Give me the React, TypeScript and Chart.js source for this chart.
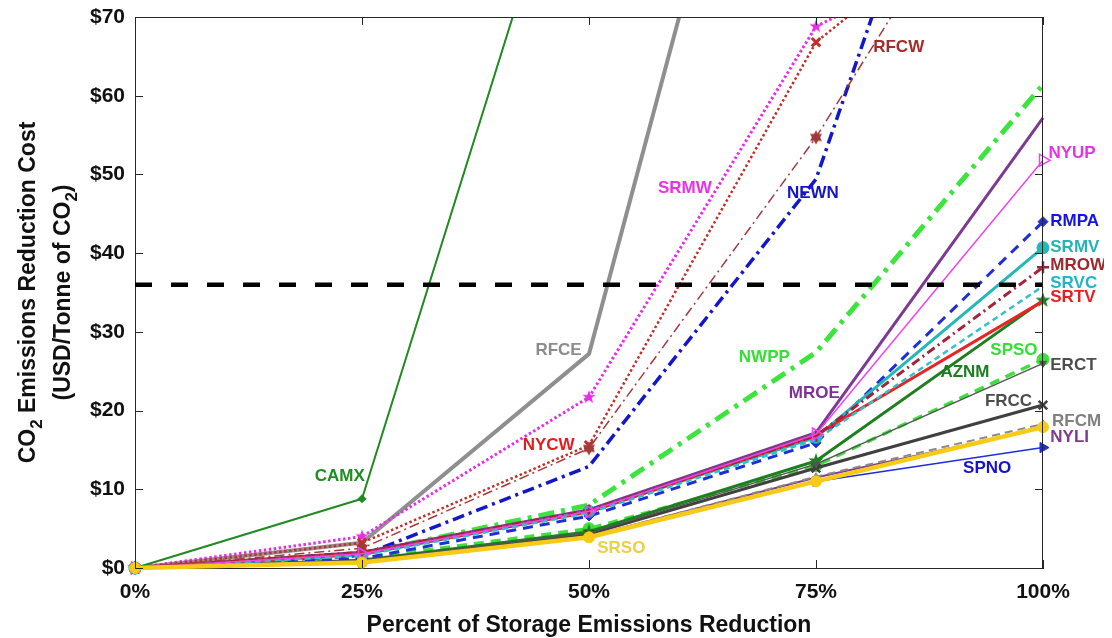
import React, { useEffect, useRef } from 'react';
import { Chart, registerables } from 'chart.js';
Chart.register(...registerables);

// ---------- data ----------
const xPercent = [0, 25, 50, 75, 100];
const xTickValues = [0, 25, 50, 75, 100];
const yTickValues = [0, 10, 20, 30, 40, 50, 60, 70];
const thresholdX = [0, 100];
const thresholdY = [36, 36];

const CAMX = [0, 8.8, 101, 190, 280];
const RFCE = [0, 3.2, 27.2, 135, 240];
const SRMW = [0, 4.0, 21.7, 68.8, 83];
const NYCW = [0, 3.2, 15.6, 66.8, 90];
const RFCW = [0, 2.5, 15.2, 54.7, 101];
const NEWN = [0, 1.6, 12.9, 49.4, 133];
const NWPP = [0, 1.8, 8.0, 27.4, 61.4];
const MROE = [0, 2.0, 7.4, 17.2, 57.2];
const NYUP = [0, 1.8, 7.2, 17.0, 51.8];
const RMPA = [0, 1.2, 6.6, 15.9, 44.0];
const SRMV = [0, 1.7, 7.2, 16.6, 40.7];
const MROW = [0, 2.0, 7.3, 16.8, 38.2];
const SRVC = [0, 1.6, 7.0, 16.3, 35.8];
const SRTV = [0, 1.8, 7.1, 16.9, 33.9];
const AZNM = [0, 1.0, 4.6, 13.6, 34.0];
const SPSO = [0, 1.2, 5.0, 13.0, 26.5];
const ERCT = [0, 1.0, 4.4, 13.2, 26.0];
const FRCC = [0, 0.9, 4.3, 12.7, 20.7];
const RFCM = [0, 0.8, 4.0, 11.6, 18.3];
const NYLI = [0, 0.8, 4.0, 11.5, 17.8];
const SRSO = [0, 0.7, 3.9, 11.0, 17.9];
const SPNO = [0, 0.6, 4.0, 11.0, 15.3];

const seriesValues: Record<string, number[]> = {
  CAMX, RFCE, SRMW, NYCW, RFCW, NEWN, NWPP, MROE, NYUP, RMPA, SRMV,
  MROW, SRVC, SRTV, AZNM, SPSO, ERCT, FRCC, RFCM, NYLI, SRSO, SPNO,
};

// label anchors (data units: % , $)
const labelNames = ['CAMX', 'RFCE', 'SRMW', 'NEWN', 'RFCW', 'NWPP', 'MROE', 'NYCW', 'SRSO', 'AZNM', 'SPSO',
  'ERCT', 'FRCC', 'RFCM', 'NYLI', 'SPNO', 'NYUP', 'RMPA', 'SRMV', 'MROW', 'SRVC', 'SRTV'];
const labelX = [19.8, 44.1, 57.6, 71.8, 81.3, 66.5, 72.0, 42.7, 50.9, 88.7, 94.2,
  100.8, 93.6, 101.0, 100.8, 91.2, 100.6, 100.8, 100.8, 100.8, 100.8, 100.8];
const labelY = [11.6, 27.6, 48.2, 47.6, 66.1, 26.8, 22.2, 15.6, 2.5, 24.8, 27.6,
  25.7, 21.2, 18.6, 16.6, 12.7, 52.7, 44.1, 40.8, 38.4, 36.2, 34.4];

// ---------- styles ----------
type Style = {
  color: string; width: number; dash?: number[]; label: string;
  marker?: string; radius?: number; rot?: number; fill?: string; mw?: number;
};
const styles: Record<string, Style> = {
  SPNO: { color: '#1E2EDC', width: 1.5, label: '#1414C8', marker: 'triangle', radius: 6, rot: 90 },
  NYUP: { color: '#EE44EE', width: 1.5, label: '#E633E6', marker: 'triangle', radius: 7, rot: 90, fill: 'rgba(255,255,255,0)', mw: 1.5 },
  ERCT: { color: '#555555', width: 1.5, label: '#4D4D4D', marker: 'triangle', radius: 4, rot: 180 },
  RFCW: { color: '#A33A3A', width: 1.5, dash: [10, 4, 2, 4], label: '#A52A2A', marker: 'hexagram', radius: 7 },
  RFCM: { color: '#8A8A8A', width: 2, dash: [8, 5], label: '#808080', marker: 'triangle', radius: 4 },
  NYLI: { color: '#7E3C90', width: 2, label: '#7D3C8C' },
  CAMX: { color: '#1F8A1F', width: 2, label: '#1E8C1E', marker: 'rectRot', radius: 4 },
  SRVC: { color: '#33C0CC', width: 2.5, dash: [6, 4], label: '#26B3C8' },
  NYCW: { color: '#C0302A', width: 2.5, dash: [2.5, 2.5], label: '#E01E1E', marker: 'crossRot', radius: 6, mw: 3, fill: '#E01E1E' },
  SRMW: { color: '#E62EE6', width: 3, dash: [2.5, 2.5], label: '#E633E6', marker: 'pentagram', radius: 7 },
  MROW: { color: '#A3233A', width: 3, dash: [9, 4, 2, 4], label: '#A0282D', marker: 'cross', radius: 6, mw: 2.5 },
  SRTV: { color: '#E82424', width: 3, label: '#E62020' },
  SRMV: { color: '#21B8B8', width: 3, label: '#26B3B3', marker: 'circle', radius: 6 },
  RMPA: { color: '#1F2FD6', width: 3, dash: [10, 7], label: '#1414E6', marker: 'rectRot', radius: 5 },
  FRCC: { color: '#404040', width: 3, label: '#4D4D4D', marker: 'crossRot', radius: 6, mw: 2.5 },
  AZNM: { color: '#1E7F1E', width: 3, label: '#1E7D1E', marker: 'pentagram', radius: 8 },
  MROE: { color: '#7D3A92', width: 3, label: '#7B3294' },
  SPSO: { color: '#3EE03E', width: 3.5, dash: [10, 7], label: '#33E033', marker: 'circle', radius: 6 },
  NEWN: { color: '#1218C8', width: 3.5, dash: [12, 5, 3, 5], label: '#1414C8' },
  RFCE: { color: '#8F8F8F', width: 4, label: '#8C8C8C' },
  SRSO: { color: '#F7CB15', width: 4.5, label: '#EBCF45', marker: 'circle', radius: 5.5 },
  NWPP: { color: '#3BE53B', width: 5, dash: [16, 7, 4, 7], label: '#33E033' },
};
// first entry is drawn on top
const drawOrder = ['SRSO', 'SPNO', 'NYUP', 'ERCT', 'RFCW', 'RFCM', 'NYLI', 'CAMX', 'SRVC', 'NYCW', 'SRMW', 'MROW',
  'SRTV', 'SRMV', 'RMPA', 'FRCC', 'AZNM', 'MROE', 'SPSO', 'NEWN', 'RFCE', 'NWPP'];

const FONT = '"Liberation Sans", Arial, sans-serif';
const INK = '#262626';

function starCanvas(n: number, color: string, r: number, inner: number) {
  const size = Math.ceil(r * 2 + 2);
  const c = document.createElement('canvas');
  c.width = size; c.height = size;
  const g = c.getContext('2d')!;
  g.fillStyle = color;
  g.beginPath();
  for (let i = 0; i < 2 * n; i++) {
    const a = -Math.PI / 2 + (i * Math.PI) / n;
    const rr = i % 2 === 0 ? r : r * inner;
    g.lineTo(size / 2 + rr * Math.cos(a), size / 2 + rr * Math.sin(a));
  }
  g.closePath();
  g.fill();
  return c;
}

function drawRich(ctx: CanvasRenderingContext2D, parts: [string, boolean][], cx: number, y: number, size: number) {
  const big = `bold ${size}px ${FONT}`;
  const small = `bold ${Math.round(size * 0.72)}px ${FONT}`;
  const widths = parts.map(([t, sub]) => { ctx.font = sub ? small : big; return ctx.measureText(t).width; });
  const total = widths.reduce((a, b) => a + b, 0);
  let x = cx - total / 2;
  parts.forEach(([t, sub], i) => {
    ctx.font = sub ? small : big;
    ctx.fillText(t, x, sub ? y + size * 0.3 : y);
    x += widths[i];
  });
}

const overlayPlugin = {
  id: 'overlay',
  afterDatasetsDraw(chart: any) {
    const { ctx, chartArea: a, scales } = chart;
    const xs = scales.x, ys = scales.y;
    ctx.save();
    // box + inward ticks
    ctx.strokeStyle = INK;
    ctx.lineWidth = 1;
    ctx.beginPath();
    ctx.moveTo(a.left, a.top + 0.5); ctx.lineTo(a.right, a.top + 0.5);
    ctx.moveTo(a.right - 0.5, a.top); ctx.lineTo(a.right - 0.5, a.bottom);
    xTickValues.forEach((v) => {
      const px = Math.round(xs.getPixelForValue(v)) + 0.5;
      ctx.moveTo(px, a.bottom); ctx.lineTo(px, a.bottom - 8);
      ctx.moveTo(px, a.top); ctx.lineTo(px, a.top + 8);
    });
    yTickValues.forEach((v) => {
      const py = Math.round(ys.getPixelForValue(v)) + 0.5;
      ctx.moveTo(a.left, py); ctx.lineTo(a.left + 8, py);
      ctx.moveTo(a.right, py); ctx.lineTo(a.right - 8, py);
    });
    ctx.stroke();
    // series labels
    ctx.font = `bold 17px ${FONT}`;
    ctx.textBaseline = 'middle';
    ctx.textAlign = 'left';
    labelNames.forEach((name, i) => {
      ctx.fillStyle = styles[name].label;
      ctx.fillText(name, xs.getPixelForValue(labelX[i]), ys.getPixelForValue(labelY[i]));
    });
    // axis titles
    ctx.fillStyle = '#111111';
    ctx.textBaseline = 'alphabetic';
    ctx.textAlign = 'left';
    const midY = (a.top + a.bottom) / 2;
    ctx.save();
    ctx.translate(27, midY);
    ctx.rotate(-Math.PI / 2);
    drawRich(ctx, [['CO', false], ['2', true], [' Emissions Reduction Cost', false]], 0, 0, 23);
    ctx.restore();
    ctx.save();
    ctx.translate(62, midY);
    ctx.rotate(-Math.PI / 2);
    drawRich(ctx, [['(USD/Tonne of CO', false], ['2', true], [')', false]], 0, 0, 23);
    ctx.restore();
    drawRich(ctx, [['Percent of Storage Emissions Reduction', false]], (a.left + a.right) / 2, 624, 23);
    ctx.restore();
  },
};

export default function App() {
  const ref = useRef<HTMLCanvasElement>(null);
  useEffect(() => {
    if (!ref.current) return;
    const markers: Record<string, any> = {};
    drawOrder.forEach((n) => {
      const s = styles[n];
      if (s.marker === 'pentagram') markers[n] = starCanvas(5, s.color, s.radius || 7, 0.4);
      else if (s.marker === 'hexagram') markers[n] = starCanvas(6, s.color, s.radius || 7, 0.58);
      else markers[n] = s.marker || false;
    });
    const datasets: any[] = [
      {
        label: 'threshold',
        data: thresholdX.map((x, i) => ({ x, y: thresholdY[i] })),
        borderColor: '#000000',
        borderWidth: 4.5,
        borderDash: [17, 19],
        pointRadius: 0,
        fill: false,
      },
    ];
    drawOrder.forEach((n) => {
      const s = styles[n];
      const vals = seriesValues[n];
      datasets.push({
        label: n,
        data: vals.map((v, i) => ({ x: xPercent[i], y: v })),
        borderColor: s.color,
        backgroundColor: s.color,
        borderWidth: s.width,
        borderDash: s.dash || [],
        borderCapStyle: 'butt',
        borderJoinStyle: 'round',
        tension: 0,
        fill: false,
        clip: { left: 12, right: 12, top: 0, bottom: 12 },
        pointStyle: markers[n],
        pointRadius: s.marker ? s.radius : 0,
        pointRotation: s.rot || 0,
        pointBackgroundColor: s.fill || s.color,
        pointBorderColor: s.color,
        pointBorderWidth: s.mw || 1,
        pointHoverRadius: 0,
      });
    });
    const chart = new Chart(ref.current, {
      type: 'line',
      data: { datasets },
      plugins: [overlayPlugin],
      options: {
        animation: false,
        responsive: true,
        maintainAspectRatio: false,
        events: [],
        layout: { padding: { left: 0, right: 61, top: 9, bottom: 0 } },
        plugins: { legend: { display: false }, tooltip: { enabled: false } },
        scales: {
          x: {
            type: 'linear',
            min: 0,
            max: 100,
            afterBuildTicks: (s: any) => { s.ticks = xTickValues.map((v) => ({ value: v })); },
            afterFit: (s: any) => { s.height = 70; s.paddingLeft = 0; s.paddingRight = 0; },
            grid: { display: false, drawTicks: false },
            border: { display: true, color: INK, width: 1 },
            ticks: {
              padding: 12,
              color: '#111111',
              font: { family: FONT, size: 21, weight: 'bold' },
              maxRotation: 0,
              callback: (v: any) => `${v}%`,
            },
          },
          y: {
            type: 'linear',
            min: 0,
            max: 70,
            afterBuildTicks: (s: any) => { s.ticks = yTickValues.map((v) => ({ value: v })); },
            afterFit: (s: any) => { s.width = 127; s.paddingTop = 0; s.paddingBottom = 0; },
            grid: { display: false, drawTicks: false },
            border: { display: true, color: INK, width: 1 },
            ticks: {
              padding: 10,
              color: '#111111',
              font: { family: FONT, size: 21, weight: 'bold' },
              callback: (v: any) => `$${v}`,
            },
          },
        },
      } as any,
    });
    return () => chart.destroy();
  }, []);
  return (
    <div style={{ width: 1096, height: 630, position: 'relative', background: '#ffffff' }}>
      <canvas ref={ref} />
    </div>
  );
}
